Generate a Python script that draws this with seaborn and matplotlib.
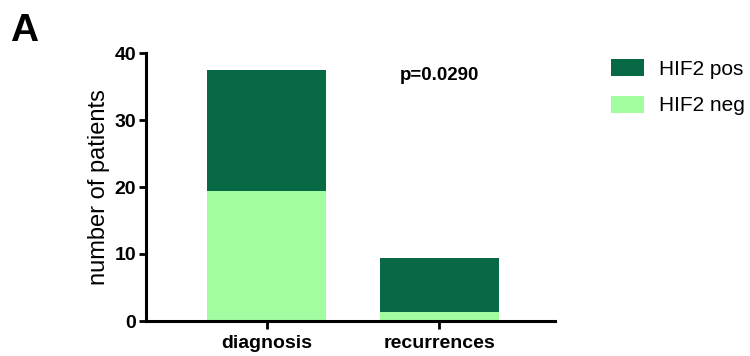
import matplotlib
matplotlib.use("Agg")
import matplotlib.pyplot as plt
import seaborn as sns
import pandas as pd
from matplotlib.patches import Patch

categories = ["diagnosis", "recurrences"]
hif2_neg = [19.4, 1.4]
hif2_pos = [18.0, 8.0]
series_labels = ["HIF2 pos", "HIF2 neg"]
yticks = [0, 10, 20, 30, 40]
p_text = "p=0.0290"

sns.set_theme(style="ticks")
plt.rcParams["font.family"] = ["Liberation Sans", "DejaVu Sans"]
plt.rcParams["text.color"] = "black"
plt.rcParams["axes.labelcolor"] = "black"
plt.rcParams["xtick.color"] = "black"
plt.rcParams["ytick.color"] = "black"

dark = "#076A45"
light = "#A2FDA0"

df = pd.DataFrame({"category": categories, "neg": hif2_neg, "pos": hif2_pos})
df["total"] = df["neg"] + df["pos"]

fig = plt.figure(figsize=(7.5, 3.56), dpi=100)
ax = fig.add_axes([146/750, 35/356, (555-146)/750, (321-53)/356])

sns.barplot(data=df, x="category", y="total", color=dark, width=0.69,
            saturation=1, ax=ax, edgecolor="none")
sns.barplot(data=df, x="category", y="neg", color=light, width=0.69,
            saturation=1, ax=ax, edgecolor="none")

ax.set_xlim(-0.70, 1.67)
ax.set_ylim(0, 40)
ax.set_yticks(yticks)
ax.set_yticklabels([str(t) for t in yticks], fontsize=14, fontweight="bold")
ax.set_xticks(range(len(categories)))
ax.set_xticklabels(categories, fontsize=14, fontweight="bold")
ax.set_xlabel("")
ax.set_ylabel("number of patients", fontsize=17, labelpad=3)

for s in ["top", "right"]:
    ax.spines[s].set_visible(False)
for s in ["left", "bottom"]:
    ax.spines[s].set_linewidth(2.2)
    ax.spines[s].set_color("black")
ax.tick_params(axis="y", length=5, width=2.0, color="black", pad=2)
ax.tick_params(axis="x", length=6, width=2.0, color="black", pad=4)

ax.text(1.0, 36.7, p_text, fontsize=13.5, fontweight="bold", ha="center", va="center")

handles = [Patch(facecolor=dark, edgecolor="none"), Patch(facecolor=light, edgecolor="none")]
fig.legend(handles, series_labels, loc="upper left", bbox_to_anchor=(611/750, 1 - 59/356),
           frameon=False, fontsize=15, handlelength=1.6, handleheight=0.9,
           handletextpad=0.7, labelspacing=0.8, borderpad=0, borderaxespad=0)

fig.text(10/750, 1 - 31/356, "A", fontsize=28, fontweight="bold", va="center", ha="left")

fig.savefig("out.png", dpi=100)
